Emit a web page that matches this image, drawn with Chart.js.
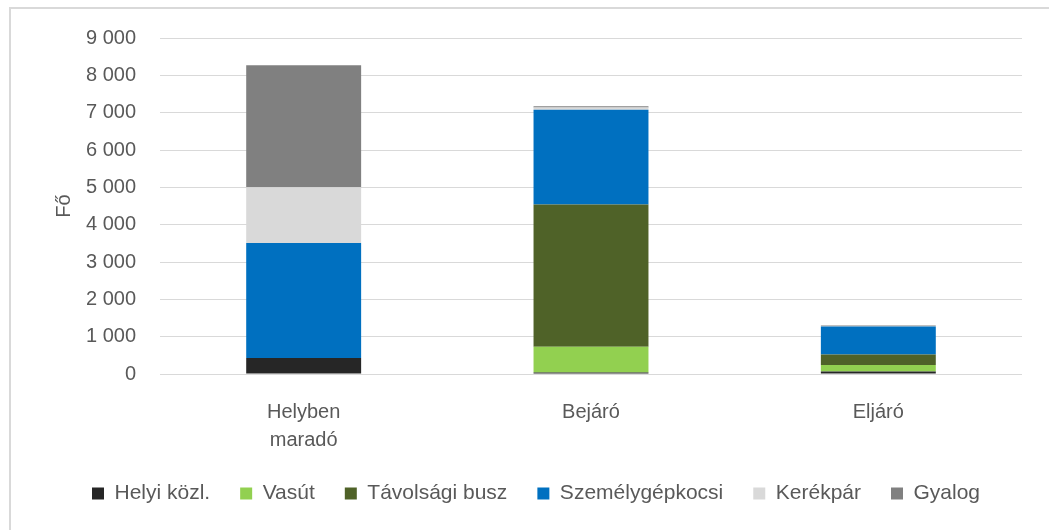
<!DOCTYPE html>
<html>
<head>
<meta charset="utf-8">
<script src="https://cdn.jsdelivr.net/npm/chart.js@4.4.1/dist/chart.umd.min.js"></script>
<style>
  html, body { margin: 0; padding: 0; background: #fff; overflow: hidden; }
  #wrap { position: relative; width: 1049px; height: 530px; }
  #frame {
    position: absolute; left: 9px; top: 7px; width: 1100px; height: 600px;
    border-left: 2px solid #d9d9d9; border-top: 2px solid #d9d9d9;
  }
  canvas { position: absolute; left: 0; top: 0; }
</style>
</head>
<body>
<div id="wrap">
  <div id="frame"></div>
  <canvas id="myChart" width="1049" height="530"></canvas>
</div>
<script>
'use strict';

// categories and series (persons)
var categories = [['Helyben', 'maradó'], 'Bejáró', 'Eljáró'];
var helyiKozl = [430, 40, 70];
var vasut = [0, 690, 170];
var tavolsagiBusz = [0, 3810, 280];
var szemelygepkocsi = [3080, 2540, 750];
var kerekpar = [1490, 60, 10];
var gyalog = [3270, 30, 20];

var yMax = 9000;
var yStep = 1000;

var textColor = '#595959';
var fontFamily = '"Liberation Sans", Arial, sans-serif';

// thousands separated with a space, e.g. 9 000
function formatTick(v) {
  return String(v).replace(/\B(?=(\d{3})+(?!\d))/g, ' ');
}

function series(label, data, color) {
  return {
    label: label,
    data: data,
    backgroundColor: color,
    borderColor: color,
    borderWidth: 0,
    categoryPercentage: 0.8,
    barPercentage: 0.5
  };
}

var ctx = document.getElementById('myChart').getContext('2d');
var chart = new Chart(ctx, {
  type: 'bar',
  data: {
    labels: categories,
    datasets: [
      series('Helyi közl.', helyiKozl, '#262626'),
      series('Vasút', vasut, '#92d050'),
      series('Távolsági busz', tavolsagiBusz, '#4f6228'),
      series('Személygépkocsi', szemelygepkocsi, '#0070c0'),
      series('Kerékpár', kerekpar, '#d9d9d9'),
      series('Gyalog', gyalog, '#808080')
    ]
  },
  options: {
    responsive: false,
    animation: false,
    layout: { padding: { left: 50, right: 27, top: 38, bottom: 16 } },
    plugins: {
      tooltip: { enabled: false },
      legend: {
        position: 'bottom',
        labels: {
          boxWidth: 12,
          boxHeight: 12,
          padding: 30,
          color: textColor,
          font: { family: fontFamily, size: 21 }
        }
      }
    },
    scales: {
      x: {
        stacked: true,
        grid: { display: false, drawTicks: false },
        border: { display: false },
        ticks: {
          color: textColor,
          padding: 24,
          font: { family: fontFamily, size: 20, lineHeight: 1.4 }
        },
        afterFit: function (scale) { scale.height = 79; }
      },
      y: {
        stacked: true,
        min: 0,
        max: yMax,
        grid: { color: '#d9d9d9', lineWidth: 1, drawTicks: false },
        border: { display: false },
        ticks: {
          stepSize: yStep,
          color: textColor,
          padding: 24,
          font: { family: fontFamily, size: 20 },
          callback: function (v) { return formatTick(v); }
        },
        title: {
          display: true,
          text: 'Fő',
          color: textColor,
          padding: { top: 2, bottom: 0 },
          font: { family: fontFamily, size: 20, lineHeight: 1.2 }
        },
        afterFit: function (scale) { scale.width = 110; }
      }
    }
  }
});
</script>
</body>
</html>
